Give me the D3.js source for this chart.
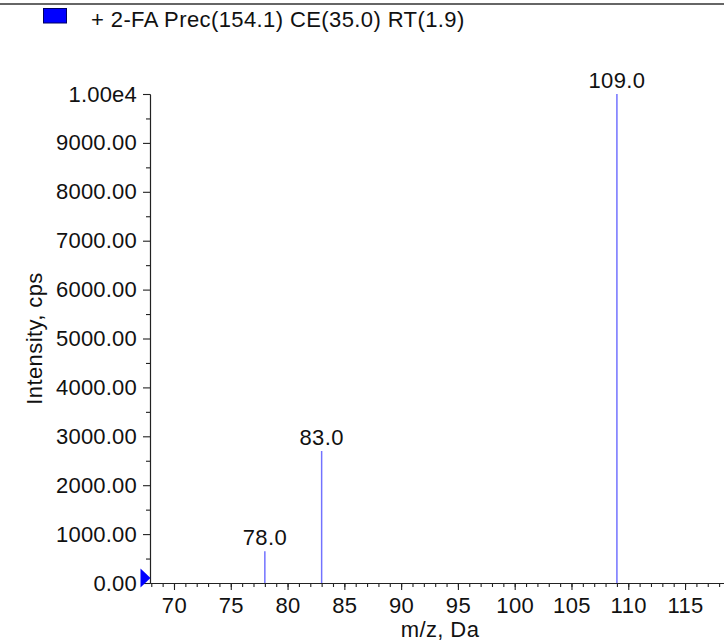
<!DOCTYPE html>
<html>
<head>
<meta charset="utf-8">
<script src="https://cdn.jsdelivr.net/npm/d3@7"></script>
<style>
  html, body { margin: 0; padding: 0; background: #fff; }
  svg { display: block; font-family: "Liberation Sans", Arial, sans-serif; }
  svg text { letter-spacing: 0.4px; }
  svg .y-axis text { letter-spacing: 0.2px; }
</style>
</head>
<body>
<div id="container"></div>
<script>
// spectrum data
const peakMz = [78.0, 83.0, 109.0];
const peakIntensity = [650, 2700, 10000];
const peakLabels = ["78.0", "83.0", "109.0"];

const xTickValues = [70, 75, 80, 85, 90, 95, 100, 105, 110, 115];
const xMinorTicks = d3.range(68, 119, 1);
const yTickValues = [0, 1000, 2000, 3000, 4000, 5000, 6000, 7000, 8000, 9000, 10000];
const yTickLabels = ["0.00", "1000.00", "2000.00", "3000.00", "4000.00", "5000.00",
                     "6000.00", "7000.00", "8000.00", "9000.00", "1.00e4"];
const yMinorTicks = d3.range(500, 10000, 1000);

const legendText = "+ 2-FA Prec(154.1) CE(35.0) RT(1.9)";
const xTitle = "m/z, Da";
const yTitle = "Intensity, cps";

const width = 724;
const height = 641;
const plot = { left: 150, right: 724, top: 94, bottom: 583 };
const fontSize = 22;

const x = d3.scaleLinear()
    .domain([67.887, 118.43])
    .range([plot.left, plot.right]);

const y = d3.scaleLinear()
    .domain([0, 10000])
    .range([plot.bottom, plot.top]);

const svg = d3.create("svg")
    .attr("width", width)
    .attr("height", height)
    .attr("viewBox", [0, 0, width, height]);

/* ---------- header / legend ---------- */
svg.append("line")
    .attr("x1", 0).attr("x2", width)
    .attr("y1", 4).attr("y2", 4)
    .attr("stroke", "#333")
    .attr("stroke-width", 1.5);

svg.append("rect")
    .attr("x", 43.5).attr("y", 8.5)
    .attr("width", 23).attr("height", 14.5)
    .attr("fill", "#0000ff")
    .attr("stroke", "#000060");

svg.append("text")
    .attr("x", 91)
    .attr("y", 27)
    .attr("font-size", fontSize)
    .attr("fill", "#111")
    .text(legendText);

/* ---------- axes ---------- */
const xMinorAxis = d3.axisBottom(x)
    .tickValues(xMinorTicks)
    .tickSize(4)
    .tickSizeOuter(0)
    .tickFormat("");

const xAxis = d3.axisBottom(x)
    .tickValues(xTickValues)
    .tickSize(7)
    .tickPadding(7)
    .tickSizeOuter(0)
    .tickFormat(d3.format("d"));

const yMinorAxis = d3.axisLeft(y)
    .tickValues(yMinorTicks)
    .tickSize(4)
    .tickSizeOuter(0)
    .tickFormat("");

const yAxis = d3.axisLeft(y)
    .tickValues(yTickValues)
    .tickSize(7)
    .tickPadding(6)
    .tickSizeOuter(0)
    .tickFormat((d, i) => yTickLabels[i]);

function styleAxis(g) {
    g.selectAll("path, line").attr("stroke", "#222").attr("stroke-width", 1.1);
    g.selectAll("text")
        .attr("font-size", fontSize)
        .attr("font-family", "'Liberation Sans', Arial, sans-serif")
        .attr("fill", "#111");
}

svg.append("g")
    .attr("transform", `translate(0,${plot.bottom})`)
    .call(xMinorAxis).call(styleAxis);
svg.append("g")
    .attr("transform", `translate(0,${plot.bottom})`)
    .call(xAxis).call(styleAxis);

svg.append("g")
    .attr("transform", `translate(${plot.left},0)`)
    .call(yMinorAxis).call(styleAxis);
svg.append("g")
    .attr("class", "y-axis")
    .attr("transform", `translate(${plot.left},0)`)
    .call(yAxis).call(styleAxis);

// axis titles
svg.append("text")
    .attr("x", (plot.left + plot.right) / 2 + 3)
    .attr("y", 637)
    .attr("text-anchor", "middle")
    .attr("font-size", fontSize)
    .attr("fill", "#111")
    .text(xTitle);

svg.append("text")
    .attr("transform", `translate(42,${(plot.top + plot.bottom) / 2}) rotate(-90)`)
    .attr("text-anchor", "middle")
    .attr("font-size", fontSize)
    .attr("fill", "#111")
    .text(yTitle);

/* ---------- peaks ---------- */
const peaks = peakMz.map((mz, i) => ({ mz, v: peakIntensity[i], label: peakLabels[i] }));

svg.append("g")
    .selectAll("line")
    .data(peaks)
    .join("line")
    .attr("x1", d => x(d.mz)).attr("x2", d => x(d.mz))
    .attr("y1", y(0)).attr("y2", d => y(d.v))
    .attr("stroke", "#7272ff")
    .attr("stroke-width", 1.5);

svg.append("g")
    .selectAll("text")
    .data(peaks)
    .join("text")
    .attr("x", d => x(d.mz))
    .attr("y", d => y(d.v) - 6)
    .attr("text-anchor", "middle")
    .attr("font-size", fontSize)
    .attr("fill", "#111")
    .text(d => d.label);

/* ---------- zero marker ---------- */
const mx = plot.left, my = y(0) - 5;
svg.append("path")
    .attr("d", `M${mx - 9.5},${my - 9.5}L${mx + 0.5},${my}L${mx - 9.5},${my + 9.5}Z`)
    .attr("fill", "#0000ff");

document.getElementById("container").append(svg.node());
</script>
</body>
</html>
